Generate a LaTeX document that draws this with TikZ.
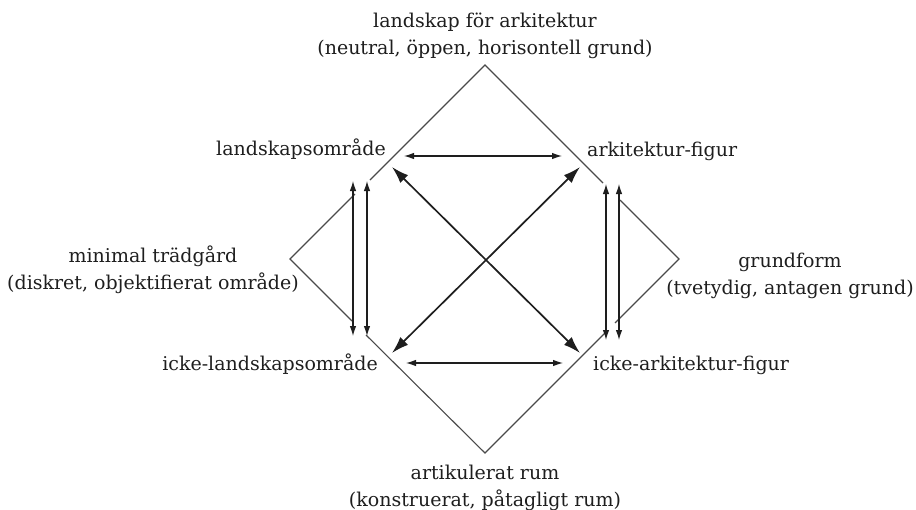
\documentclass[tikz,border=0pt]{standalone}
\usepackage{fontspec}
\setmainfont{DejaVu Serif}
\usetikzlibrary{arrows.meta,positioning}

\definecolor{ink}{HTML}{1e1e1e}
\definecolor{edgegray}{HTML}{4a4a4a}

\begin{document}
\begin{tikzpicture}[x=1pt, y=-1pt, font=\fontsize{19}{26.5}\selectfont, text=ink,
    lbl/.style={inner sep=0pt, align=center},
    rim/.style={draw=edgegray, line width=1.1pt},
    pair/.style={draw=ink, line width=1.1pt, {Latex[length=10pt,width=6.5pt]}-{Latex[length=10pt,width=6.5pt]}},
    cross/.style={draw=ink, line width=1.7pt, {Latex[length=17pt,width=11pt]}-{Latex[length=17pt,width=11pt]}}]
    \useasboundingbox (0,0) rectangle (916,509);
    % labels
    \node[lbl, anchor=north] (land) at (485,13) {landskap för arkitektur\\(neutral, öppen, horisontell grund)};
    \node[lbl, anchor=north] (rum) at (485,465) {artikulerat rum\\(konstruerat, påtagligt rum)};
    \node[lbl, anchor=north] (tradg) at (153,246) {minimal trädgård\\(diskret, objektifierat område)};
    \node[lbl, anchor=north] (grund) at (790,253) {grundform\\(tvetydig, antagen grund)};
    \node[lbl, anchor=base east] (lo) at (386,155) {landskapsområde};
    \node[lbl, anchor=base west] (af) at (587,156) {arkitektur-figur};
    \node[lbl, anchor=base east] (ilo) at (378,370) {icke-landskapsområde};
    \node[lbl, anchor=base west] (iaf) at (593,370) {icke-arkitektur-figur};
    % corners of the square
    \coordinate (apex) at (485,65);
    \coordinate (nadir) at (485,453);
    \coordinate (wtip) at (290,259);
    \coordinate (etip) at (679,259);
    % gaps in the rim
    \coordinate (lo-a) at (370,180);  \coordinate (lo-b) at (355,194);
    \coordinate (ilo-a) at (352,321); \coordinate (ilo-b) at (366,335);
    \coordinate (af-a) at (603,183);  \coordinate (af-b) at (620,200);
    \coordinate (iaf-a) at (615,323); \coordinate (iaf-b) at (605,333);
    \draw[rim] (lo-a) -- (apex) -- (af-a);
    \draw[rim] (lo-b) -- (wtip) -- (ilo-a);
    \draw[rim] (af-b) -- (etip) -- (iaf-a);
    \draw[rim] (ilo-b) -- (nadir) -- (iaf-b);
    % arrow ends
    \coordinate (lo-h) at (404,156);   \coordinate (af-h) at (562,156);
    \coordinate (ilo-h) at (406,363);  \coordinate (iaf-h) at (563,363);
    \coordinate (lo-v1) at (353,181);  \coordinate (ilo-v1) at (353,336);
    \coordinate (lo-v2) at (367,181);  \coordinate (ilo-v2) at (367,336);
    \coordinate (af-v1) at (606,184);  \coordinate (iaf-v1) at (606,340);
    \coordinate (af-v2) at (619,184);  \coordinate (iaf-v2) at (619,340);
    \coordinate (lo-d) at (392,167);   \coordinate (iaf-d) at (580,353);
    \coordinate (af-d) at (580,167);   \coordinate (ilo-d) at (392,353);
    \path (lo-h) edge[pair] (af-h);
    \path (ilo-h) edge[pair] (iaf-h);
    \path (lo-v1) edge[pair] (ilo-v1);
    \path (lo-v2) edge[pair] (ilo-v2);
    \path (af-v1) edge[pair] (iaf-v1);
    \path (af-v2) edge[pair] (iaf-v2);
    \path (lo-d) edge[cross] (iaf-d);
    \path (af-d) edge[cross] (ilo-d);
\end{tikzpicture}
\end{document}
